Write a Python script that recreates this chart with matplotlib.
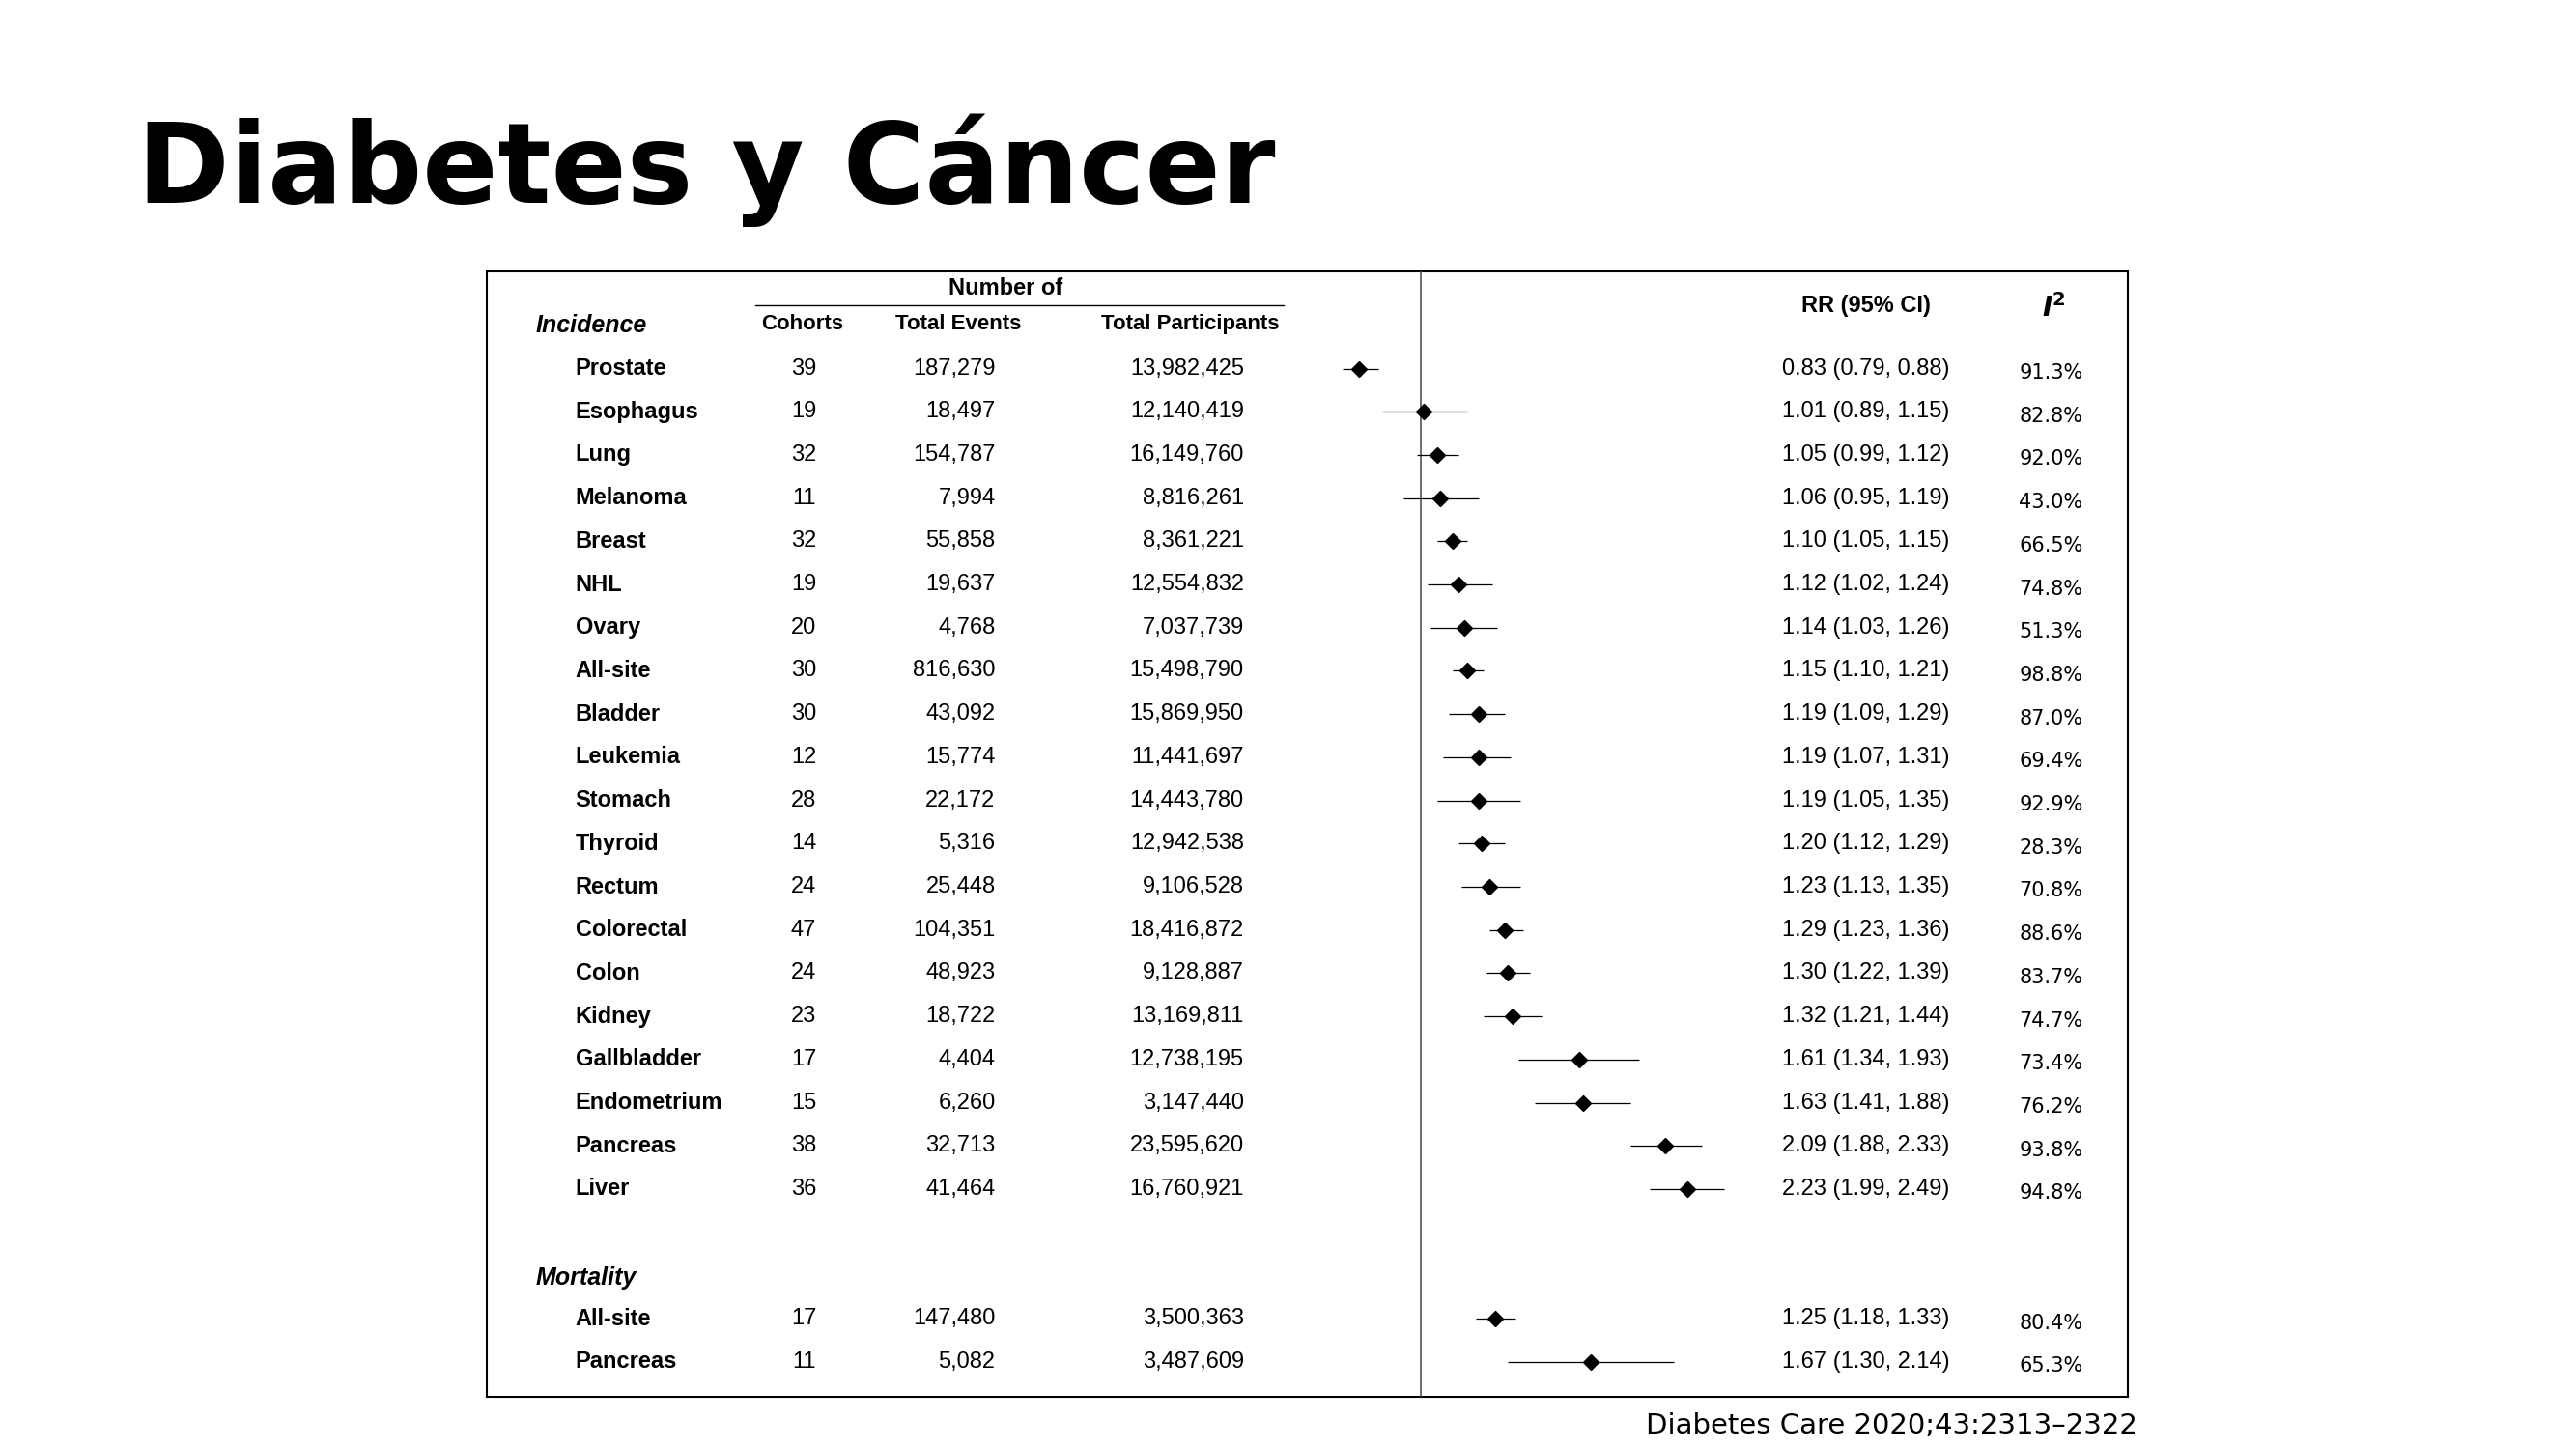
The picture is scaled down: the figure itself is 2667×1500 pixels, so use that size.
import matplotlib
matplotlib.use("Agg")
import matplotlib.pyplot as plt
import numpy as np

# ---- data ----
inc_sites = ["Prostate", "Esophagus", "Lung", "Melanoma", "Breast", "NHL", "Ovary",
             "All-site", "Bladder", "Leukemia", "Stomach", "Thyroid", "Rectum",
             "Colorectal", "Colon", "Kidney", "Gallbladder", "Endometrium",
             "Pancreas", "Liver"]
inc_cohorts = [39, 19, 32, 11, 32, 19, 20, 30, 30, 12, 28, 14, 24, 47, 24, 23, 17, 15, 38, 36]
inc_events = ["187,279", "18,497", "154,787", "7,994", "55,858", "19,637", "4,768",
              "816,630", "43,092", "15,774", "22,172", "5,316", "25,448", "104,351",
              "48,923", "18,722", "4,404", "6,260", "32,713", "41,464"]
inc_participants = ["13,982,425", "12,140,419", "16,149,760", "8,816,261", "8,361,221",
                    "12,554,832", "7,037,739", "15,498,790", "15,869,950", "11,441,697",
                    "14,443,780", "12,942,538", "9,106,528", "18,416,872", "9,128,887",
                    "13,169,811", "12,738,195", "3,147,440", "23,595,620", "16,760,921"]
inc_rr = [0.83, 1.01, 1.05, 1.06, 1.10, 1.12, 1.14, 1.15, 1.19, 1.19, 1.19, 1.20,
          1.23, 1.29, 1.30, 1.32, 1.61, 1.63, 2.09, 2.23]
inc_lo = [0.79, 0.89, 0.99, 0.95, 1.05, 1.02, 1.03, 1.10, 1.09, 1.07, 1.05, 1.12,
          1.13, 1.23, 1.22, 1.21, 1.34, 1.41, 1.88, 1.99]
inc_hi = [0.88, 1.15, 1.12, 1.19, 1.15, 1.24, 1.26, 1.21, 1.29, 1.31, 1.35, 1.29,
          1.35, 1.36, 1.39, 1.44, 1.93, 1.88, 2.33, 2.49]
inc_i2 = ["91.3%", "82.8%", "92.0%", "43.0%", "66.5%", "74.8%", "51.3%", "98.8%",
          "87.0%", "69.4%", "92.9%", "28.3%", "70.8%", "88.6%", "83.7%", "74.7%",
          "73.4%", "76.2%", "93.8%", "94.8%"]

mort_sites = ["All-site", "Pancreas"]
mort_cohorts = [17, 11]
mort_events = ["147,480", "5,082"]
mort_participants = ["3,500,363", "3,487,609"]
mort_rr = [1.25, 1.67]
mort_lo = [1.18, 1.30]
mort_hi = [1.33, 2.14]
mort_i2 = ["80.4%", "65.3%"]

W, H = 1545.0, 869.0  # reference layout units


def fig_rect(x0, y0, x1, y1):
    return [x0 / W, 1 - y1 / H, (x1 - x0) / W, (y1 - y0) / H]


fig = plt.figure(figsize=(26.67, 15), dpi=100)
fig.text(82 / W, 1 - 102 / H, "Diabetes y Cáncer", fontsize=83, fontweight="bold",
         va="center", ha="left", family="DejaVu Sans")
fig.text(1282 / W, 1 - 855 / H, "Diabetes Care 2020;43:2313–2322", fontsize=21,
         ha="right", va="center", family="DejaVu Sans")

ylim = (23.82, -2.24)
ax = fig.add_axes(fig_rect(292, 163, 1276, 838))
ax.set_xlim(292, 1276)
ax.set_ylim(*ylim)
ax.set_xticks([])
ax.set_yticks([])
for s in ax.spines.values():
    s.set_linewidth(1.5)

fam = "Liberation Sans"
fs = 17
hfs = 16
ax.text(603, -1.85, "Number of", ha="center", va="center", fontsize=17, fontweight="bold", family=fam)
ax.plot([453, 770], [-1.47, -1.47], color="black", lw=1)
ax.text(481, -1.04, "Cohorts", ha="center", va="center", fontsize=hfs, fontweight="bold", family=fam)
ax.text(575, -1.04, "Total Events", ha="center", va="center", fontsize=hfs, fontweight="bold", family=fam)
ax.text(714, -1.04, "Total Participants", ha="center", va="center", fontsize=hfs, fontweight="bold", family=fam)
ax.text(1119, -1.45, "RR (95% CI)", ha="center", va="center", fontsize=17, fontweight="bold", family=fam)
ax.text(1232, -1.4, "$\\mathbfit{I}^{\\mathbf{2}}$", ha="center", va="center", fontsize=20)
ax.text(321, -1.0, "Incidence", ha="left", va="center", fontsize=18, fontweight="bold",
        style="italic", family=fam)
ax.text(321, 21.05, "Mortality", ha="left", va="center", fontsize=18, fontweight="bold",
        style="italic", family=fam)

inc_y = np.arange(len(inc_sites))
mort_y = np.array([22.0, 23.0])
groups = [
    (inc_y, inc_sites, inc_cohorts, inc_events, inc_participants, inc_rr, inc_lo, inc_hi, inc_i2),
    (mort_y, mort_sites, mort_cohorts, mort_events, mort_participants, mort_rr, mort_lo, mort_hi, mort_i2),
]

fax = fig.add_axes(fig_rect(795, 163, 1050, 838))
fax.set_xscale("log")
fax.set_xlim(0.751, 2.70)
fax.set_ylim(*ylim)
fax.axis("off")
fax.axvline(1.0, color="#555555", lw=1.2)

for ys, names, coh, ev, par, rr, lo, hi, i2 in groups:
    for k, y in enumerate(ys):
        ax.text(345, y, names[k], ha="left", va="center", fontsize=fs, fontweight="bold", family=fam)
        ax.text(482, y, str(coh[k]), ha="center", va="center", fontsize=fs, family=fam)
        ax.text(597, y, ev[k], ha="right", va="center", fontsize=fs, family=fam)
        ax.text(746, y, par[k], ha="right", va="center", fontsize=fs, family=fam)
        ax.text(1069, y, f"{rr[k]:.2f} ({lo[k]:.2f}, {hi[k]:.2f})", ha="left",
                va="center", fontsize=fs, family=fam)
        ax.text(1211, y + 0.1, i2[k], ha="left", va="center", fontsize=15, family="DejaVu Sans")
    fax.hlines(ys, lo, hi, color="black", lw=0.9)
    fax.plot(rr, ys, "D", color="black", markersize=8, linestyle="none")

fig.savefig("out.png", dpi=100)
